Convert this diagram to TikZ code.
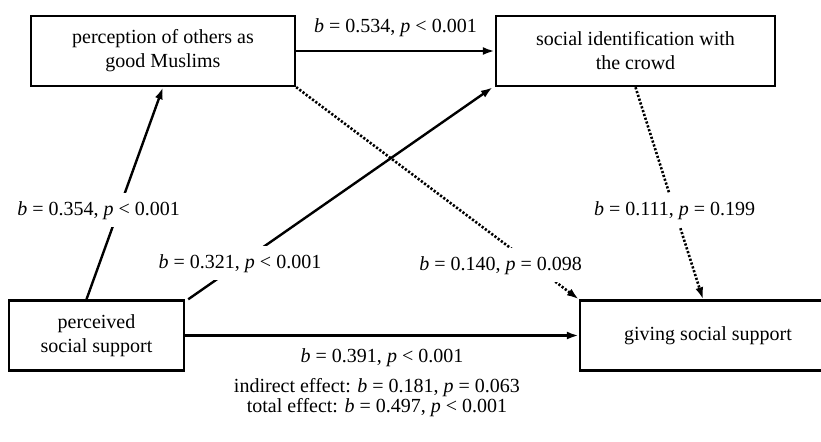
\documentclass[tikz,border=0pt]{standalone}
\usepackage{fontspec}
\setmainfont{Liberation Serif}
\usetikzlibrary{arrows.meta}
\tikzset{
	-{Latex[length=6pt,width=4pt]},
	var/.style ={rectangle, draw, align=center, minimum height=35pt, inner sep=2pt},
	coef/.style = {fill=white, inner sep=4pt},
	nonsig/.style={line width=1.3pt, dash pattern=on 1.1pt off 0.9pt}
}

\begin{document}
\begin{tikzpicture}[x=0.5pt, y=-0.5pt, line width=1.2pt]
		\useasboundingbox (0,0) rectangle (821,441);
		\node[var, minimum width=132pt] (goodmus) at (163, 51) {perception of others as\\good Muslims};
		\node[var, minimum width=139.5pt] (ident) at (635.5, 51) {social identification with\\the crowd};
		\node[var, minimum width=87.5pt] (percsupp) at (96.5, 335.5) {perceived\\social support};
		\node[var, minimum width=128pt] (giving) at (708, 335.5) {giving social support};
		
		% Paths
		\path (goodmus) edge node[coef, above=2.5pt] {\textit{b} = 0.534, \textit{p} < 0.001} (ident);
		\path ([xshift=-5pt]percsupp.north) edge node[coef, pos=.42, xshift=-10pt] {\textit{b} = 0.354, \textit{p} < 0.001} (goodmus.south);
		\path ([xshift=1.5pt]percsupp.north east) edge node[coef, pos=.17] {\textit{b} = 0.321, \textit{p} < 0.001} ([xshift=-1pt]ident.south west);
		\path (goodmus.south east) edge[nonsig] node[coef, pos=.84, xshift=-16.5pt] {\textit{b} = 0.140, \textit{p} = 0.098} (giving.north west);
		\path (ident.south) edge[nonsig] node[coef, pos=.58] {\textit{b} = 0.111, \textit{p} = 0.199} ([xshift=-2.5pt]giving.north);
		\path (percsupp) edge node[coef, below=2pt] {\textit{b} = 0.391, \textit{p} < 0.001} (giving);
		
		\node[align=center, font={\fontsize{10pt}{10pt}\selectfont}] (effects) at (377, 398) {indirect effect: \textit{b} = 0.181, \textit{p} = 0.063\\total effect: \textit{b} = 0.497, \textit{p} < 0.001};
\end{tikzpicture}
\end{document}
